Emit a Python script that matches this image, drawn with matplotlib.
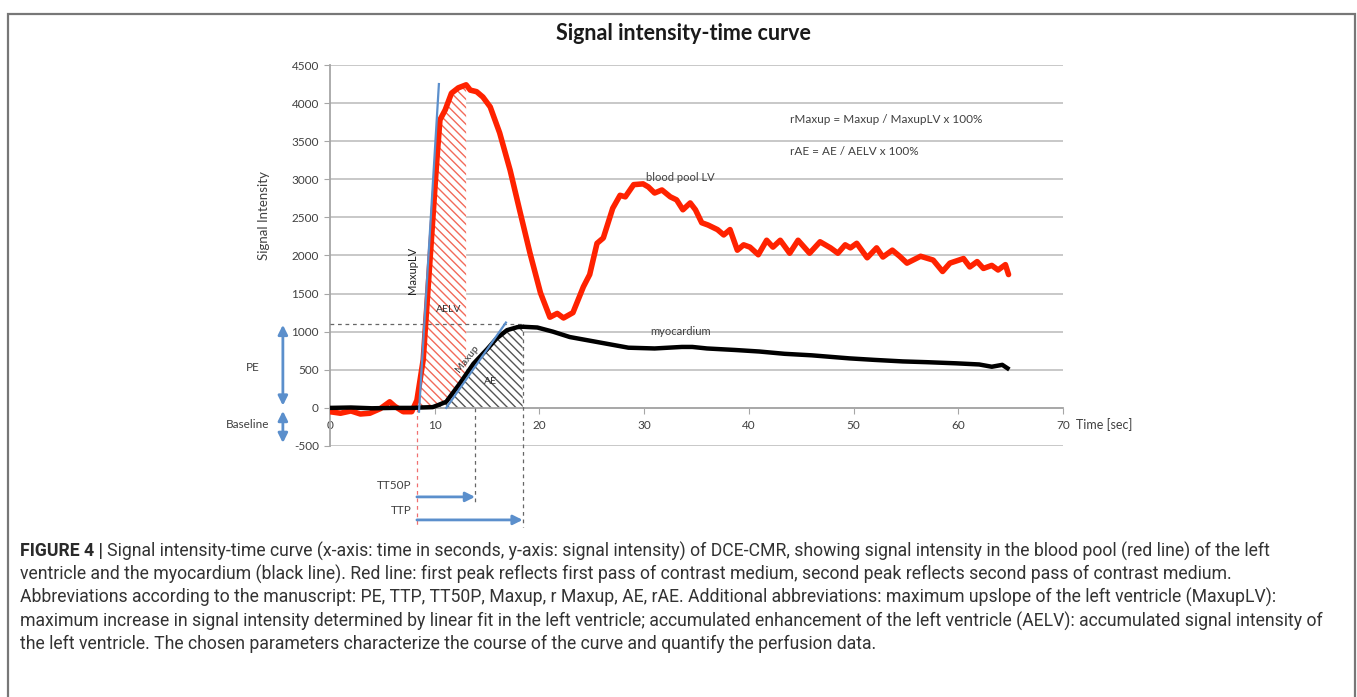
import numpy as np
import matplotlib.pyplot as plt
from matplotlib.patches import Rectangle

# blood pool LV (red) - time [s], signal
t_lv = [0, 1, 2, 2.9, 3.8, 4.8, 5.7, 6.2, 7.0, 7.8, 8.3, 8.9, 9.55, 10.2, 10.5, 11.0,
        11.6, 12.25, 13.0, 13.4, 14.0, 14.6, 15.3, 16.2, 17.2, 18.1, 19.1, 20.1, 21.0,
        21.7, 22.3, 23.2, 24.2, 24.8, 25.5, 26.1, 27.0, 27.7, 28.2, 29.0, 29.9, 30.4,
        31.0, 31.7, 32.5, 33.1, 33.7, 34.4, 34.9, 35.5, 36.1, 37.0, 37.6, 38.2, 38.9,
        39.5, 40.1, 40.9, 41.7, 42.3, 43.0, 43.9, 44.7, 45.8, 46.8, 47.8, 48.5, 49.2,
        49.7, 50.3, 51.3, 52.2, 52.8, 53.7, 54.4, 55.1, 56.4, 57.6, 58.5, 59.2, 60.5,
        61.1, 61.8, 62.4, 63.2, 63.8, 64.5, 64.8]
si_lv = [-50, -70, -40, -80, -70, -10, 80, 20, -50, -50, 100, 630, 1940, 3250, 3780, 3910,
         4130, 4200, 4240, 4170, 4150, 4080, 3950, 3610, 3120, 2600, 2030, 1510, 1190,
         1240, 1180, 1250, 1590, 1750, 2160, 2230, 2620, 2790, 2770, 2930, 2940, 2900,
         2820, 2860, 2770, 2730, 2600, 2690, 2600, 2430, 2400, 2340, 2270, 2340, 2070,
         2140, 2110, 2010, 2200, 2110, 2200, 2030, 2200, 2030, 2180, 2100, 2030, 2140,
         2100, 2160, 1970, 2100, 1980, 2070, 1990, 1900, 1990, 1940, 1790, 1900, 1960,
         1850, 1920, 1830, 1870, 1810, 1880, 1750]

# myocardium (black)
t_myo = [0, 2, 4, 6, 8, 8.6, 9.8, 10.2, 11.1, 12.4, 13.7, 15.0, 15.9, 16.9, 17.9, 18.4,
         19.8, 21.3, 22.9, 24.5, 26.1, 28.5, 31, 33.6, 34.6, 36, 38.7, 41, 43.4, 46,
         49.6, 52, 54.7, 57, 59.8, 62, 63.2, 64.2, 64.7]
si_myo = [0, 5, -5, 0, 0, 5, 10, 30, 80, 320, 580, 770, 910, 1020, 1060, 1065,
          1055, 1000, 930, 890, 850, 790, 780, 800, 800, 780, 760, 740, 710, 690,
          650, 630, 610, 600, 585, 570, 540, 565, 520]

# fitted slopes (start/end points)
maxuplv_t = [8.5, 10.4]
maxuplv_si = [-50, 4250]
maxup_t = [11.1, 16.8]
maxup_si = [0, 1120]

t_start = 8.3
tt50p = 13.85
ttp = 18.4
t_aelv_end = 13.0
pe_level = 1100

xticks = np.arange(0, 71, 10)
yticks = np.arange(-500, 4501, 500)

red = '#ff2200'
blue = '#5b8fcc'
txt = '#404040'

plt.rcParams['font.family'] = ['Lato', 'DejaVu Sans']
plt.rcParams['hatch.linewidth'] = 1.0
plt.rcParams['axes.unicode_minus'] = False

fig = plt.figure(figsize=(13.57, 6.97), dpi=100)
ax = fig.add_axes([330 / 1357, 251 / 697, 733 / 1357, 381 / 697])

t_lv_a = np.array(t_lv)
si_lv_a = np.array(si_lv)
t_myo_a = np.array(t_myo)
si_myo_a = np.array(si_myo)

m = (t_lv_a >= t_start) & (t_lv_a <= t_aelv_end)
ax.fill_between(t_lv_a[m], 0, si_lv_a[m], facecolor='white', edgecolor='#f26a5a',
                hatch='\\\\\\\\', linewidth=0, zorder=2)
m2 = (t_myo_a >= 10.2) & (t_myo_a <= ttp)
ax.fill_between(t_myo_a[m2], 0, si_myo_a[m2], facecolor='white', edgecolor='#555555',
                hatch='\\\\\\\\', linewidth=0, zorder=2)

ax.plot(t_lv, si_lv, color=red, lw=4, solid_joinstyle='round', solid_capstyle='round',
        zorder=4)
ax.plot(t_myo, si_myo, color='black', lw=3.2, solid_joinstyle='round', zorder=5)
ax.plot(maxuplv_t, maxuplv_si, color=blue, lw=1.6, zorder=6)
ax.plot(maxup_t, maxup_si, color=blue, lw=1.6, zorder=6)

# dashed helper lines
ax.plot([0, ttp], [pe_level, pe_level], color='#666666', lw=0.9, ls=(0, (3, 3)), zorder=3)
ax.plot([t_start, t_start], [0, -1560], color='#f07070', lw=0.9, ls=(0, (3, 3)),
        clip_on=False, zorder=3)
ax.plot([tt50p, tt50p], [0, -1260], color='#666666', lw=0.9, ls=(0, (3, 3)),
        clip_on=False, zorder=3)
ax.plot([ttp, ttp], [pe_level, -1560], color='#666666', lw=0.9, ls=(0, (3, 3)),
        clip_on=False, zorder=3)

arr = dict(arrowstyle='-|>', color=blue, lw=2, mutation_scale=14, shrinkA=0, shrinkB=0)
ax.annotate('', xy=(tt50p, -1168), xytext=(t_start, -1168), arrowprops=arr,
            annotation_clip=False)
ax.annotate('', xy=(ttp, -1470), xytext=(t_start, -1470), arrowprops=arr,
            annotation_clip=False)
darr = dict(arrowstyle='<|-|>', color=blue, lw=2, mutation_scale=14, shrinkA=0, shrinkB=0)
ax.annotate('', xy=(-4.5, 1090), xytext=(-4.5, 30), arrowprops=darr, annotation_clip=False)
ax.annotate('', xy=(-4.5, -40), xytext=(-4.5, -460), arrowprops=darr, annotation_clip=False)

ax.text(-7.35, 525, 'PE', fontsize=8.5, color=txt, ha='center', va='center')
ax.text(-5.8, -220, 'Baseline', fontsize=8.5, color=txt, ha='right', va='center')
ax.text(7.8, -1024, 'TT50P', fontsize=8.5, color=txt, ha='right', va='center')
ax.text(7.8, -1350, 'TTP', fontsize=8.5, color=txt, ha='right', va='center')

ax.text(7.9, 1810, 'MaxupLV', fontsize=8, color='#222222', rotation=90, ha='center',
        va='center', zorder=7)
ax.text(11.3, 1290, 'AELV', fontsize=7.5, color='#333333', ha='center', va='center', zorder=7)
ax.text(13.1, 650, 'Maxup', fontsize=7.5, color='#333333', rotation=52, ha='center',
        va='center', zorder=7)
ax.text(15.3, 340, 'AE', fontsize=7.5, color='#333333', ha='center', va='center', zorder=7)
ax.text(33.5, 1000, 'myocardium', fontsize=8, color=txt, ha='center', va='center')
ax.text(33.5, 3020, 'blood pool LV', fontsize=8, color=txt, ha='center', va='center')
ax.text(43.9, 3790, 'rMaxup = Maxup / MaxupLV x 100%', fontsize=8.5, color=txt, va='center')
ax.text(43.9, 3360, 'rAE = AE / AELV x 100%', fontsize=8.5, color=txt, va='center')
ax.text(71.2, -220, 'Time [sec]', fontsize=9, color=txt, va='center', clip_on=False)
ax.text(-6.3, 2530, 'Signal Intensity', fontsize=9.5, color=txt, rotation=90,
        ha='center', va='center')

ax.set_xlim(0, 70)
ax.set_ylim(-500, 4500)
ax.set_xticks(xticks)
ax.set_yticks(yticks)
ax.grid(axis='y', color='#c4c4c4', lw=1.3)
ax.set_axisbelow(True)
for s in ['top', 'right']:
    ax.spines[s].set_visible(False)
ax.spines['bottom'].set_position(('data', 0))
ax.spines['bottom'].set_color('#a6a6a6')
ax.spines['left'].set_color('#a6a6a6')
ax.spines['bottom'].set_linewidth(1.3)
ax.spines['left'].set_linewidth(1.3)
ax.tick_params(axis='x', length=4, color='#a6a6a6', labelsize=8.5, labelcolor=txt, pad=5)
ax.tick_params(axis='y', length=4, color='#a6a6a6', labelsize=8.5, labelcolor=txt, pad=4)

fig.text(683 / 1357, 1 - 33 / 697, 'Signal intensity-time curve', fontsize=15.5,
         weight='bold', color='#1a1a1a', ha='center', va='center')

# figure frame
fig.patches.append(Rectangle((8 / 1357, -0.05), 1347 / 1357, 1.04 - 7 / 697,
                             transform=fig.transFigure, fill=False, ec='#777777', lw=1.6))

cap_lines = [
    'Signal intensity-time curve (x-axis: time in seconds, y-axis: signal intensity) of DCE-CMR, showing signal intensity in the blood pool (red line) of the left',
    'ventricle and the myocardium (black line). Red line: first peak reflects first pass of contrast medium, second peak reflects second pass of contrast medium.',
    'Abbreviations according to the manuscript: PE, TTP, TT50P, Maxup, r Maxup, AE, rAE. Additional abbreviations: maximum upslope of the left ventricle (MaxupLV):',
    'maximum increase in signal intensity determined by linear fit in the left ventricle; accumulated enhancement of the left ventricle (AELV): accumulated signal intensity of',
    'the left ventricle. The chosen parameters characterize the course of the curve and quantify the perfusion data.',
]
cap_y = [551, 574, 597, 621, 644]
cap_font = ['Roboto', 'DejaVu Sans']
cap_size = 12.7

renderer = fig.canvas.get_renderer()
lead = fig.text(20 / 1357, 1 - cap_y[0] / 697, 'FIGURE 4 | ', fontsize=cap_size,
                family=cap_font, weight='bold', color='#2a2a2a', va='center')
bb = lead.get_window_extent(renderer)
for i, (line, yy) in enumerate(zip(cap_lines, cap_y)):
    x0 = bb.x1 / 1357 if i == 0 else 20 / 1357
    fig.text(x0, 1 - yy / 697, line, fontsize=cap_size, family=cap_font,
             color='#333333', va='center')

fig.savefig('out.png', dpi=100)
